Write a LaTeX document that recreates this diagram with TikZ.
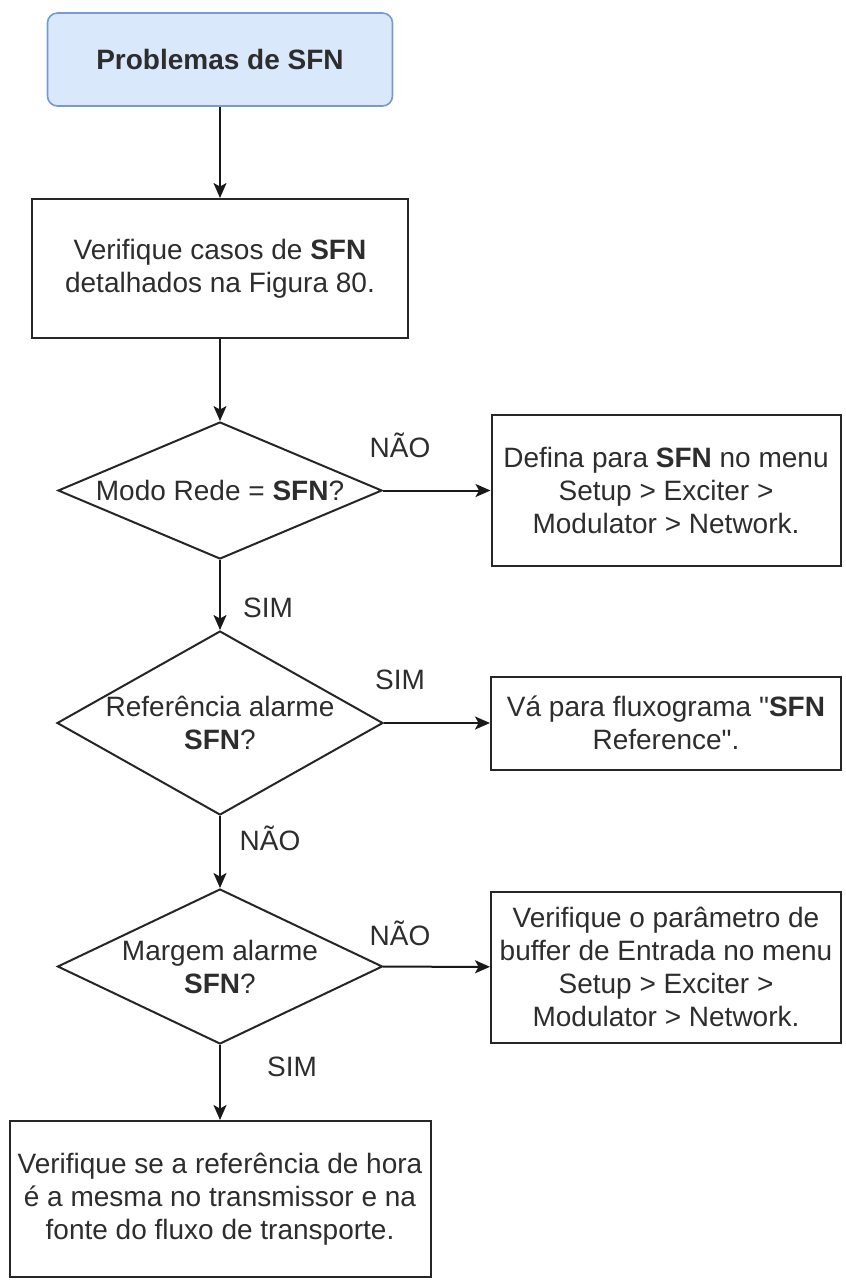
\documentclass[tikz,border=0pt]{standalone}
\usepackage{fontspec}
\setmainfont{Liberation Sans}[Ligatures=TeXOff]
\usepackage{tikz}
\usetikzlibrary{arrows.meta,shapes.geometric}
\definecolor{sfnfill}{RGB}{218,232,252}
\definecolor{sfnline}{RGB}{120,155,205}
\definecolor{inkgray}{RGB}{45,45,45}
\newcommand{\txtfont}{\fontsize{14}{16.5}\selectfont}
\tikzset{
  tnode/.style={rectangle, rounded corners=5pt, draw=sfnline, fill=sfnfill, line width=0.8pt,
      minimum width=172.5pt, minimum height=46.5pt, font=\txtfont\bfseries, text=inkgray},
  pbox/.style={rectangle, draw=black!85, line width=1pt, align=center, inner sep=0pt,
      font=\txtfont, text=inkgray},
  dnode/.style={diamond, draw=black!85, line width=1pt, align=center, inner sep=0pt,
      font=\txtfont, text=inkgray},
  elab/.style={font=\txtfont, text=inkgray},
  farr/.style={-{Stealth[length=7.5pt, width=6.5pt, inset=1.8pt]}, line width=1pt, black!90},
}

\begin{document}
\begin{tikzpicture}[x=0.5pt, y=-0.5pt]
  \useasboundingbox (0,0) rectangle (846,1280);
  \node[tnode] (start) at (220,59.5) {Problemas de SFN};
  \node[pbox, minimum width=188pt, minimum height=69.5pt] (cases) at (220,268.5)
    {Verifique casos de \textbf{SFN}\\detalhados na Figura 80.};
  % first question: network mode
  \node[dnode, aspect=2.36, minimum width=162pt, minimum height=68.5pt] (mode) at (220,490.5)
    {Modo Rede = \textbf{SFN}?};
  \node[pbox, minimum width=174.5pt, minimum height=75.5pt] (setnet) at (666,490.5)
    {Defina para \textbf{SFN} no menu\\Setup > Exciter >\\Modulator > Network.};
  % second question: reference alarm
  \node[dnode, aspect=1.77, minimum width=163pt, minimum height=92pt] (refal) at (220,723)
    {Referência alarme\\\textbf{SFN}?};
  \node[pbox, minimum width=175pt, minimum height=46.5pt] (gofl) at (666,723)
    {Vá para fluxograma "\textbf{SFN}\\Reference".};
  % third question: margin alarm
  \node[dnode, aspect=2.1, minimum width=162.5pt, minimum height=77.5pt] (margal) at (220,966.5)
    {Margem alarme\\\textbf{SFN}?};
  \node[pbox, minimum width=175pt, minimum height=75.5pt] (buff) at (666,967)
    {Verifique o parâmetro de\\buffer de Entrada no menu\\Setup > Exciter >\\Modulator > Network.};
  \node[pbox, minimum width=210.5pt, minimum height=78pt] (timeref) at (220,1199)
    {Verifique se a referência de hora\\é a mesma no transmissor e na\\fonte do fluxo de transporte.};
  \draw[farr] (start) -- (cases);
  \draw[farr] (cases) -- (mode);
  \draw[farr] (mode) -- (setnet);
  \draw[farr] (mode) -- (refal);
  \draw[farr] (refal) -- (gofl);
  \draw[farr] (refal) -- (margal);
  \draw[farr] (margal) -- (buff);
  \draw[farr] (margal) -- (timeref);
  \node[elab] (l1) at (400,445) {NÃO};
  \node[elab] (l2) at (268,608) {SIM};
  \node[elab] (l3) at (400,680) {SIM};
  \node[elab] (l4) at (270,838) {NÃO};
  \node[elab] (l5) at (400,933) {NÃO};
  \node[elab] (l6) at (292,1067) {SIM};
\end{tikzpicture}
\end{document}
